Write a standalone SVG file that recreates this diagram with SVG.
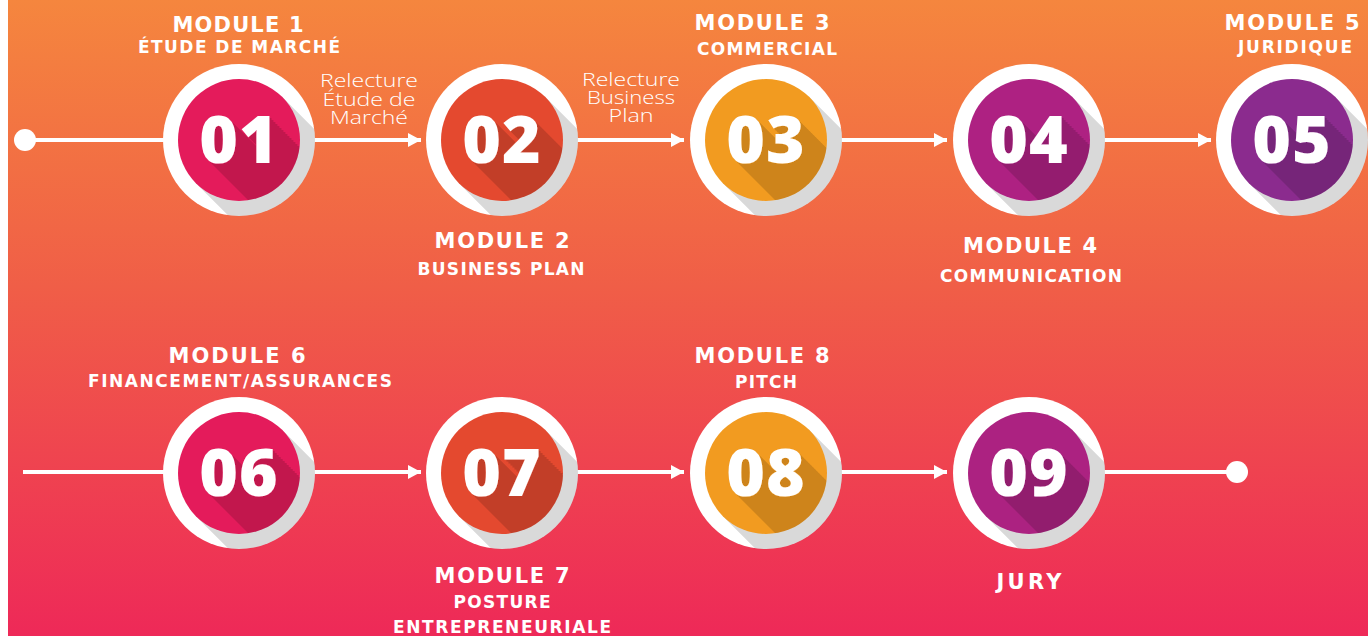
<svg xmlns="http://www.w3.org/2000/svg" width="1368" height="636" viewBox="0 0 1368 636">
<style>
.mod{font-family:"DejaVu Sans","Liberation Sans",sans-serif;font-weight:bold;font-size:21px;fill:#fff;text-anchor:middle}
.sub{font-family:"DejaVu Sans","Liberation Sans",sans-serif;font-weight:bold;font-size:17px;fill:#fff;text-anchor:middle}
.rel{font-family:"Open Sans","Liberation Sans",sans-serif;font-weight:300;font-size:18.5px;fill:#fff;text-anchor:middle}
.num{font-family:"Open Sans","Liberation Sans",sans-serif;font-weight:800;font-size:66px;fill:#fff;text-anchor:middle;letter-spacing:1px}
.ring{fill:#fff}
.rsh{fill:#000;fill-opacity:0.15}
.ln{stroke:#fff;stroke-width:4;fill:none}
.dot{fill:#fff}
</style>
<defs>
<linearGradient id="bg" x1="0" y1="0" x2="0" y2="1">
<stop offset="0" stop-color="#F5863E"/>
<stop offset="0.45" stop-color="#F05E47"/>
<stop offset="1" stop-color="#EE2958"/>
</linearGradient>
<clipPath id="inner"><circle cx="0" cy="0" r="61"/></clipPath>
<clipPath id="outer"><circle cx="0" cy="0" r="76"/></clipPath>
<marker id="arr" markerUnits="userSpaceOnUse" markerWidth="14" markerHeight="14" refX="13" refY="7" orient="auto">
<path d="M0,0 L13,7 L0,14 Z" fill="#fff"/>
</marker>
<filter id="ls" x="-0.1" y="-0.2" width="2.2" height="3">
<feOffset in="SourceAlpha" dx="2" dy="2" result="a"/>
<feMerge result="m1"><feMergeNode in="SourceAlpha"/><feMergeNode in="a"/></feMerge>
<feOffset in="m1" dx="4" dy="4" result="b"/>
<feMerge result="m2"><feMergeNode in="m1"/><feMergeNode in="b"/></feMerge>
<feOffset in="m2" dx="8" dy="8" result="c"/>
<feMerge result="m3"><feMergeNode in="m2"/><feMergeNode in="c"/></feMerge>
<feOffset in="m3" dx="16" dy="16" result="d"/>
<feMerge result="m4"><feMergeNode in="m3"/><feMergeNode in="d"/></feMerge>
<feOffset in="m4" dx="32" dy="32" result="e"/>
<feMerge result="m5"><feMergeNode in="m4"/><feMergeNode in="e"/></feMerge>
<feFlood flood-color="#000" flood-opacity="0.15"/>
<feComposite in2="m5" operator="in" result="sh"/>
<feMerge><feMergeNode in="sh"/><feMergeNode in="SourceGraphic"/></feMerge>
</filter>
<g id="badge-base">
<circle class="ring" cx="0" cy="0" r="76"/>
<path class="rsh" clip-path="url(#outer)" d="M43.13,-43.13 L78.48,-7.78 A61,61 0 0 1 -7.78,78.48 L-43.13,43.13 Z"/>
</g>
</defs>

<rect x="0" y="0" width="1368" height="636" fill="#fff"/>
<rect x="8" y="0" width="1360" height="636" fill="url(#bg)"/>

<g id="connectors">
<circle class="dot" cx="25" cy="140" r="11"/>
<line class="ln" x1="25" y1="140" x2="164" y2="140"/>
<line class="ln" x1="314" y1="140" x2="421" y2="140" marker-end="url(#arr)"/>
<line class="ln" x1="577" y1="140" x2="684" y2="140" marker-end="url(#arr)"/>
<line class="ln" x1="841" y1="140" x2="947" y2="140" marker-end="url(#arr)"/>
<line class="ln" x1="1104" y1="140" x2="1211" y2="140" marker-end="url(#arr)"/>
<line class="ln" x1="23" y1="472" x2="164" y2="472"/>
<line class="ln" x1="314" y1="472" x2="421" y2="472" marker-end="url(#arr)"/>
<line class="ln" x1="577" y1="472" x2="684" y2="472" marker-end="url(#arr)"/>
<line class="ln" x1="841" y1="472" x2="947" y2="472" marker-end="url(#arr)"/>
<line class="ln" x1="1104" y1="472" x2="1237" y2="472"/>
<circle class="dot" cx="1237" cy="472" r="11"/>
<text class="rel" x="369" y="87" textLength="98" lengthAdjust="spacingAndGlyphs">Relecture</text>
<text class="rel" x="369" y="105.5" textLength="93" lengthAdjust="spacingAndGlyphs">Étude de</text>
<text class="rel" x="369" y="124" textLength="78" lengthAdjust="spacingAndGlyphs">Marché</text>
<text class="rel" x="631" y="86" textLength="98" lengthAdjust="spacingAndGlyphs">Relecture</text>
<text class="rel" x="631" y="104" textLength="88" lengthAdjust="spacingAndGlyphs">Business</text>
<text class="rel" x="631" y="122" textLength="45" lengthAdjust="spacingAndGlyphs">Plan</text>
</g>

<g id="node-01">
<g transform="translate(239,140)"><use href="#badge-base"/><circle cx="0" cy="0" r="61" fill="#E41B5B"/><text class="num" x="0" y="23" filter="url(#ls)" clip-path="url(#inner)">01</text></g>
<text class="mod" x="238" y="32" textLength="131">MODULE 1</text>
<text class="sub" x="239" y="53" textLength="202">ÉTUDE DE MARCHÉ</text>
</g>
<g id="node-02">
<g transform="translate(502,140)"><use href="#badge-base"/><circle cx="0" cy="0" r="61" fill="#E4492F"/><text class="num" x="0" y="23" filter="url(#ls)" clip-path="url(#inner)">02</text></g>
<text class="mod" x="502" y="248" textLength="135">MODULE 2</text>
<text class="sub" x="501" y="275" textLength="167">BUSINESS PLAN</text>
</g>
<g id="node-03">
<g transform="translate(766,140)"><use href="#badge-base"/><circle cx="0" cy="0" r="61" fill="#F29B20"/><text class="num" x="0" y="23" filter="url(#ls)" clip-path="url(#inner)">03</text></g>
<text class="mod" x="762" y="30" textLength="135">MODULE 3</text>
<text class="sub" x="767" y="55" textLength="140">COMMERCIAL</text>
</g>
<g id="node-04">
<g transform="translate(1029,140)"><use href="#badge-base"/><circle cx="0" cy="0" r="61" fill="#AE2182"/><text class="num" x="0" y="23" filter="url(#ls)" clip-path="url(#inner)">04</text></g>
<text class="mod" x="1030" y="253" textLength="134">MODULE 4</text>
<text class="sub" x="1031" y="282" textLength="182">COMMUNICATION</text>
</g>
<g id="node-05">
<g transform="translate(1292,140)"><use href="#badge-base"/><circle cx="0" cy="0" r="61" fill="#8B2B8E"/><text class="num" x="0" y="23" filter="url(#ls)" clip-path="url(#inner)">05</text></g>
<text class="mod" x="1292" y="30" textLength="135">MODULE 5</text>
<text class="sub" x="1295" y="53" textLength="114">JURIDIQUE</text>
</g>
<g id="node-06">
<g transform="translate(239,473)"><use href="#badge-base"/><circle cx="0" cy="0" r="61" fill="#E41B5B"/><text class="num" x="0" y="23" filter="url(#ls)" clip-path="url(#inner)">06</text></g>
<text class="mod" x="237" y="363" textLength="137">MODULE 6</text>
<text class="sub" x="240" y="387" textLength="304">FINANCEMENT/ASSURANCES</text>
</g>
<g id="node-07">
<g transform="translate(502,473)"><use href="#badge-base"/><circle cx="0" cy="0" r="61" fill="#E4492F"/><text class="num" x="0" y="23" filter="url(#ls)" clip-path="url(#inner)">07</text></g>
<text class="mod" x="502" y="583" textLength="135">MODULE 7</text>
<text class="sub" x="502" y="608" textLength="97">POSTURE</text>
<text class="sub" x="502" y="633" textLength="218">ENTREPRENEURIALE</text>
</g>
<g id="node-08">
<g transform="translate(766,473)"><use href="#badge-base"/><circle cx="0" cy="0" r="61" fill="#F29B20"/><text class="num" x="0" y="23" filter="url(#ls)" clip-path="url(#inner)">08</text></g>
<text class="mod" x="762" y="363" textLength="135">MODULE 8</text>
<text class="sub" x="766" y="388" textLength="62">PITCH</text>
</g>
<g id="node-09">
<g transform="translate(1029,473)"><use href="#badge-base"/><circle cx="0" cy="0" r="61" fill="#AC2281"/><text class="num" x="0" y="23" filter="url(#ls)" clip-path="url(#inner)">09</text></g>
<text class="mod" x="1029" y="589" textLength="65">JURY</text>
</g>
</svg>
